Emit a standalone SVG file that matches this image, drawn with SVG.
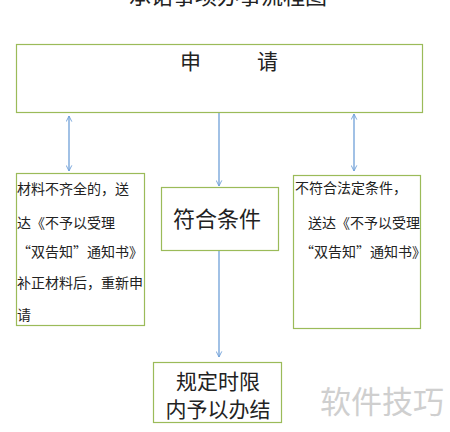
<svg xmlns="http://www.w3.org/2000/svg" width="450" height="432" viewBox="0 0 450 432">
<defs>
<style>
.box{fill:#fff;stroke:#9bbb59;stroke-width:1.2}
.t{font-family:"Noto Sans CJK SC","Noto Sans",sans-serif;fill:#222}
.s{font-size:14px}
.b{font-size:21px}
.conn{stroke:#6fa0d8;stroke-width:1.3;fill:none}
</style>
<marker id="ah" viewBox="0 0 10 10" refX="9" refY="5" markerWidth="7" markerHeight="7" markerUnits="userSpaceOnUse" orient="auto-start-reverse">
<path d="M1,1 L9,5 L1,9" fill="none" stroke="#6fa0d8" stroke-width="1.3"/>
</marker>
</defs>
<rect width="450" height="432" fill="#fff"/>
<text class="t" x="228" y="4" font-size="22" text-anchor="middle">承诺事项办事流程图</text>
<g id="connectors">
<line class="conn" x1="69" y1="116" x2="69" y2="171" marker-start="url(#ah)" marker-end="url(#ah)"/>
<line class="conn" x1="219" y1="113" x2="219" y2="186" marker-end="url(#ah)"/>
<line class="conn" x1="354" y1="114" x2="354" y2="171" marker-start="url(#ah)" marker-end="url(#ah)"/>
<line class="conn" x1="219" y1="251" x2="219" y2="357" marker-end="url(#ah)"/>
</g>
<g id="apply">
<rect class="box" x="16.5" y="44.5" width="406" height="68"/>
<text class="t b" x="180" y="69">申</text>
<text class="t b" x="257" y="69">请</text>
</g>
<g id="incomplete">
<rect class="box" x="16.5" y="173.5" width="128" height="152"/>
<text class="t s" x="17" y="194">材料不齐全的，送</text>
<text class="t s" x="17" y="228">达《不予以受理</text>
<text class="t s" x="17" y="257">“双告知”通知书》</text>
<text class="t s" x="17" y="288">补正材料后，重新申</text>
<text class="t s" x="17" y="320">请</text>
</g>
<g id="qualified">
<rect class="box" x="161.5" y="187.5" width="117" height="63"/>
<text class="t" x="217" y="227" font-size="22" text-anchor="middle">符合条件</text>
</g>
<g id="unqualified">
<rect class="box" x="293.5" y="175.5" width="127" height="153"/>
<text class="t s" x="295" y="193">不符合法定条件，</text>
<text class="t s" x="308" y="228">送达《不予以受理</text>
<text class="t s" x="300" y="257">“双告知”通知书》</text>
</g>
<g id="finish">
<rect class="box" x="153.5" y="362.5" width="128" height="60"/>
<text class="t b" x="218" y="389" text-anchor="middle">规定时限</text>
<text class="t b" x="218" y="417" text-anchor="middle">内予以办结</text>
</g>
<text x="382" y="413" font-family="'Noto Sans CJK SC',sans-serif" font-size="31" fill="#cfcfcf" text-anchor="middle">软件技巧</text>
</svg>
